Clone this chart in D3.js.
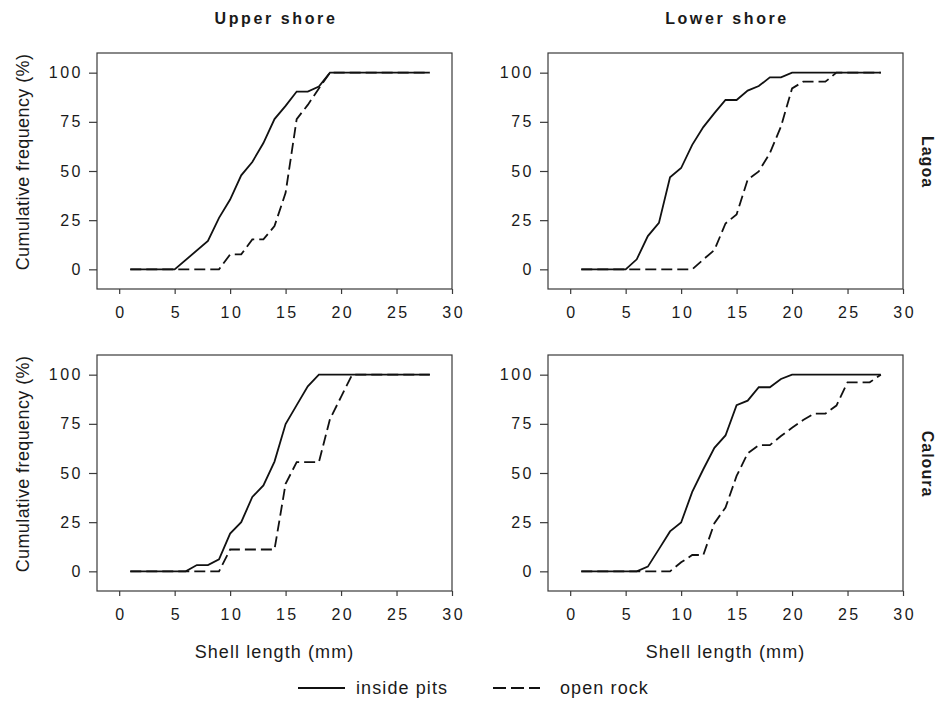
<!DOCTYPE html>
<html>
<head>
<meta charset="utf-8">
<script src="https://cdn.jsdelivr.net/npm/d3@7"></script>
<style>
  body { margin: 0; background: white; }
  text { font-family: "Liberation Sans", Arial, sans-serif; fill: #1a1a1a; }
</style>
</head>
<body>
<svg id="chart" width="938" height="701"></svg>
<script>
// shell length classes (mm)
const shellLength = d3.range(1, 29);

const sites = ["Lagoa", "Caloura"];
const shores = ["Upper shore", "Lower shore"];
const xTicks = [0, 5, 10, 15, 20, 25, 30];
const yTicks = [0, 25, 50, 75, 100];

// cumulative frequency (%), one value per shell length class, null = no point
const lagoaUpperPits = [0, 0, 0, 0, 0, null, null, 14.4, 26.2, 35.5, 47.8, 54.6, 64.2, 76.4, 83.1, 90.4, 90.4, 92.9, 100, 100, 100, 100, 100, 100, 100, 100, 100, 100];
const lagoaUpperRock = [0, 0, 0, 0, 0, 0, 0, 0, 0, 7.6, 7.6, 15.2, 15.2, 22, 38.9, 76.4, 83.6, 92, 100, 100, 100, 100, 100, 100, 100, 100, 100, 100];
const lagoaLowerPits = [0, 0, 0, 0, 0, 5.1, 16.9, 23.6, 46.8, 51.5, 63.3, 72.3, 79.4, 86.1, 86.1, 90.9, 93.2, 97.6, 97.6, 100, 100, 100, 100, 100, 100, 100, 100, 100];
const lagoaLowerRock = [0, 0, 0, 0, 0, 0, 0, 0, 0, 0, 0, 5, 9.8, 23.3, 27.9, 45.6, 49.8, 59.1, 72.6, 92, 95.4, 95.4, 95.4, 100, 100, 100, 100, 100];
const calouraUpperPits = [0, 0, 0, 0, 0, 0, 3.2, 3.2, 6.1, 19.2, 25, 37.8, 43.7, 55.8, 74.9, 84.5, 94.1, 100, 100, 100, 100, 100, 100, 100, 100, 100, 100, 100];
const calouraUpperRock = [0, 0, 0, 0, 0, 0, 0, 0, 0, 11.1, 11.1, 11.1, 11.1, 11.1, 44.5, 55.5, 55.5, 55.5, 77.4, 88.7, 100, 100, 100, 100, 100, 100, 100, 100];
const calouraLowerPits = [0, 0, 0, 0, 0, 0, 2.4, 11.3, 20.3, 24.8, 40.4, 51.9, 62.8, 69.1, 84.5, 86.8, 93.6, 93.6, 97.8, 100, 100, 100, 100, 100, 100, 100, 100, 100];
const calouraLowerRock = [0, 0, 0, 0, 0, 0, 0, 0, 0, 4.6, 8.3, 8.3, 24.5, 32.4, 48.5, 60, 64.2, 64.2, 68.8, 73, 76.9, 80.2, 80.2, 84.3, 96.1, 96.1, 96.1, 100];

const panels = [
    { row: 0, col: 0, pits: lagoaUpperPits, rock: lagoaUpperRock },
    { row: 0, col: 1, pits: lagoaLowerPits, rock: lagoaLowerRock },
    { row: 1, col: 0, pits: calouraUpperPits, rock: calouraUpperRock },
    { row: 1, col: 1, pits: calouraLowerPits, rock: calouraLowerRock }
];

const svg = d3.select("#chart");

const colLeft = [97, 548];
const panelWidth = 355;
const rowTop = [53, 355];
const panelHeight = 236;
const dash = "11,5";

const toPoints = values => shellLength
    .map((x, i) => [x, values[i]])
    .filter(d => d[1] !== null);

const drawPanel = (p) => {
    const x0 = colLeft[p.col];
    const y0 = rowTop[p.row];

    const xScale = d3.scaleLinear().domain([-2, 30]).range([x0, x0 + panelWidth]);
    const yScale = d3.scaleLinear().domain([-10, 110]).range([y0 + panelHeight, y0]);

    const g = svg.append("g");

    g.append("rect")
        .attr("x", x0)
        .attr("y", y0)
        .attr("width", panelWidth)
        .attr("height", panelHeight)
        .attr("fill", "none")
        .attr("stroke", "#3a3a3a")
        .attr("stroke-width", 1.2);

    const xAxis = g.append("g")
        .attr("transform", `translate(0,${y0 + panelHeight})`)
        .call(d3.axisBottom(xScale).tickValues(xTicks).tickSize(5).tickPadding(13));
    const yAxis = g.append("g")
        .attr("transform", `translate(${x0},0)`)
        .call(d3.axisLeft(yScale).tickValues(yTicks).tickSize(8).tickPadding(6));

    [xAxis, yAxis].forEach(a => {
        a.select(".domain").remove();
        a.selectAll(".tick line").attr("stroke", "#3a3a3a").attr("stroke-width", 1.2);
        a.selectAll(".tick text")
            .attr("font-size", 16)
            .attr("letter-spacing", "2.5px")
            .attr("fill", "#1a1a1a")
            .style("font-family", "'Liberation Sans', Arial, sans-serif");
    });
    xAxis.selectAll(".tick text").attr("dx", "1.25px");

    const line = d3.line()
        .x(d => xScale(d[0]))
        .y(d => yScale(d[1]));

    g.append("path")
        .datum(toPoints(p.rock))
        .attr("d", line)
        .attr("fill", "none")
        .attr("stroke", "#111")
        .attr("stroke-width", 1.8)
        .attr("stroke-dasharray", dash);

    g.append("path")
        .datum(toPoints(p.pits))
        .attr("d", line)
        .attr("fill", "none")
        .attr("stroke", "#111")
        .attr("stroke-width", 1.8);

    if (p.col === 0) {
        svg.append("text")
            .attr("transform", `translate(29,${y0 + 109})rotate(-90)`)
            .attr("text-anchor", "middle")
            .attr("font-size", 18)
            .attr("letter-spacing", "0.4px")
            .text("Cumulative frequency (%)");
    }
    if (p.row === 0) {
        svg.append("text")
            .attr("x", x0 + panelWidth / 2 + 1.5)
            .attr("y", 24)
            .attr("text-anchor", "middle")
            .attr("font-size", 16)
            .attr("font-weight", "bold")
            .attr("letter-spacing", "2.6px")
            .text(shores[p.col]);
    } else {
        svg.append("text")
            .attr("x", x0 + panelWidth / 2)
            .attr("y", 658)
            .attr("text-anchor", "middle")
            .attr("font-size", 18)
            .attr("letter-spacing", "1.1px")
            .text("Shell length (mm)");
    }
    if (p.col === 1) {
        svg.append("text")
            .attr("transform", `translate(922,${y0 + 109})rotate(90)`)
            .attr("text-anchor", "middle")
            .attr("font-size", 16)
            .attr("font-weight", "bold")
            .attr("letter-spacing", "1px")
            .text(sites[p.row]);
    }
};

panels.forEach(drawPanel);

// legend
const legendItems = [
    { label: "inside pits", dash: null, x: 298, tx: 356 },
    { label: "open rock", dash: "13,5", x: 493, tx: 560 }
];
const legend = svg.append("g").attr("transform", "translate(0,688)");
legend.selectAll("line")
    .data(legendItems)
    .join("line")
    .attr("x1", d => d.x)
    .attr("x2", d => d.x + 47)
    .attr("stroke", "#111")
    .attr("stroke-width", 1.8)
    .attr("stroke-dasharray", d => d.dash);
legend.selectAll("text")
    .data(legendItems)
    .join("text")
    .attr("x", d => d.tx)
    .attr("y", 6)
    .attr("font-size", 18)
    .attr("letter-spacing", "1.1px")
    .text(d => d.label);
</script>
</body>
</html>
